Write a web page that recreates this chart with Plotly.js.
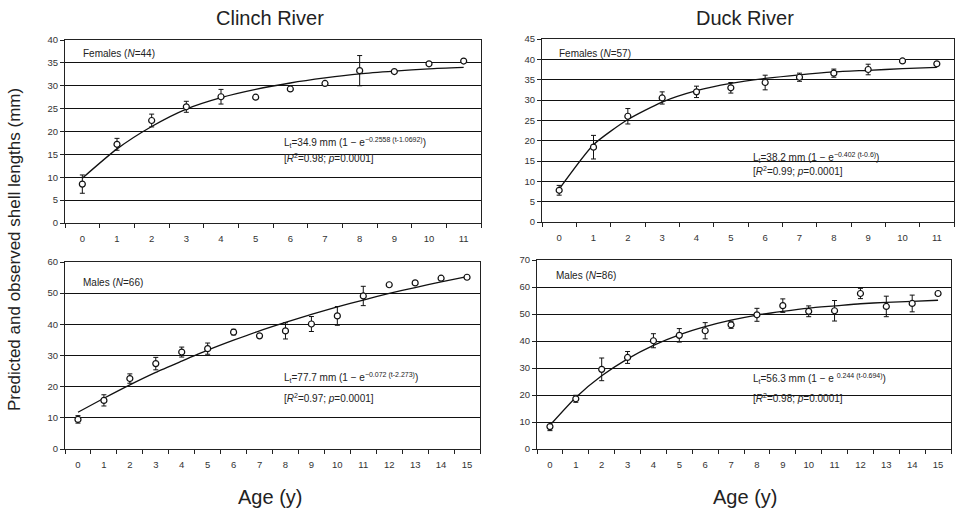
<!DOCTYPE html>
<html>
<head>
<meta charset="utf-8">
<script src="https://cdn.plot.ly/plotly-3.0.1.min.js"></script>
<style>html,body{margin:0;padding:0;background:#fff;}#chart{width:965px;height:513px;}</style>
</head>
<body>
<div id="chart"></div>
<script>
// ---- Data ----
var agesF = [0,1,2,3,4,5,6,7,8,9,10,11];
var agesM = [0,1,2,3,4,5,6,7,8,9,10,11,12,13,14,15];

var clinchF_obs = [8.5,17.2,22.4,25.4,27.6,27.5,29.3,30.5,33.3,33.1,34.8,35.4];
var clinchF_err = [2.0,1.3,1.4,1.2,1.6,0.4,0,0,3.3,0,0,0];
var clinchF_fit = [9.8,16.2,21.1,24.9,27.4,29.2,30.6,31.7,32.6,33.2,33.7,34.0];

var duckF_obs = [7.8,18.4,26.0,30.5,32.0,33.0,34.3,35.6,36.6,37.5,39.6,38.9];
var duckF_err = [1.2,2.9,1.9,1.5,1.4,1.3,1.8,1.0,1.0,1.3,0,0];
var duckF_fit = [8.1,19.0,25.2,29.5,32.3,34.1,35.3,36.2,36.9,37.3,37.7,38.0];

var clinchM_obs = [9.5,15.6,22.6,27.4,31.1,32.2,37.5,36.3,37.9,40.1,42.7,49.1,52.7,53.3,54.8,55.1];
var clinchM_err = [1.2,1.8,1.5,2.0,1.6,1.8,0.9,0,2.6,2.4,3.0,3.1,0,0.4,0,0];
var clinchM_fit = [11.8,16.3,20.6,24.6,28.2,31.7,34.9,37.9,40.6,43.2,45.6,47.8,49.9,51.8,53.6,55.3];

var duckM_obs = [8.3,18.6,29.5,33.9,40.1,42.1,43.8,46.0,49.7,53.1,51.0,51.2,57.6,52.8,53.9,57.6];
var duckM_err = [1.5,1.3,4.2,2.2,2.6,2.5,3.0,1.3,2.4,2.5,2.0,3.8,1.9,3.8,3.1,0];
var duckM_fit = [8.8,19.1,27.1,33.4,38.4,42.3,45.3,47.7,49.6,51.0,52.2,53.0,53.8,54.3,54.7,55.1];

var panelTitles = ["Clinch River", "Duck River"];
var xTitle = "Age (y)";
var yTitle = "Predicted and observed shell lengths (mm)";

// ---- Helpers ----
var W = 965, H = 513;
function px(x){ return x / W; }
function py(y){ return 1 - y / H; }
var FONT = "Liberation Sans, Arial, sans-serif";

function fitTrace(x, y, ax){
  return {x:x, y:y, xaxis:'x'+ax, yaxis:'y'+ax, type:'scatter', mode:'lines',
    line:{color:'#111', width:1.3, shape:'spline', smoothing:0.6}, hoverinfo:'skip', showlegend:false};
}
function obsTrace(x, y, e, ax){
  return {x:x, y:y, xaxis:'x'+ax, yaxis:'y'+ax, type:'scatter', mode:'markers',
    marker:{symbol:'circle', size:6, color:'#fff', line:{color:'#111', width:1.2}},
    error_y:{type:'data', array:e, visible:true, color:'#111', thickness:1, width:2.5},
    showlegend:false};
}

var data = [
  fitTrace(agesF, clinchF_fit, ''), obsTrace(agesF, clinchF_obs, clinchF_err, ''),
  fitTrace(agesF, duckF_fit, '2'), obsTrace(agesF, duckF_obs, duckF_err, '2'),
  fitTrace(agesM, clinchM_fit, '3'), obsTrace(agesM, clinchM_obs, clinchM_err, '3'),
  fitTrace(agesM, duckM_fit, '4'), obsTrace(agesM, duckM_obs, duckM_err, '4')
];
data[0].xaxis='x'; data[0].yaxis='y'; data[1].xaxis='x'; data[1].yaxis='y';

function xAxis(domain, n, anchor){
  var tv = []; for (var i=0;i<n;i++) tv.push(i);
  return {domain:domain, anchor:anchor, range:[-0.5, n-0.5], tickmode:'array', tickvals:tv,
    ticks:'', showgrid:false, zeroline:false, showline:true, mirror:true, linecolor:'#222', linewidth:1,
    tickfont:{family:FONT, size:9.5, color:'#333'}, ticklabelstandoff:7,
    minor:{ticks:'outside', ticklen:4, tickcolor:'#222', tickwidth:1, tick0:0.5, dtick:1, showgrid:false},
    fixedrange:true};
}
function yAxis(domain, max, dt, anchor){
  return {domain:domain, anchor:anchor, range:[0,max], dtick:dt, tick0:0, ticks:'outside', ticklen:4,
    tickcolor:'#222', showgrid:true, gridcolor:'#111', gridwidth:1, zeroline:false,
    showline:true, mirror:true, linecolor:'#222', linewidth:1,
    tickfont:{family:FONT, size:9.5, color:'#333'}, fixedrange:true};
}

function ann(text, x, y, opts){
  var a = {text:text, x:px(x), y:py(y), xref:'paper', yref:'paper', showarrow:false,
    xanchor:'left', yanchor:'middle', font:{family:FONT, size:10, color:'#222'}};
  for (var k in (opts||{})) a[k]=opts[k];
  return a;
}

var bigFont = {family:FONT, size:20, color:'#222'};

var layout = {
  width:W, height:H, margin:{l:0,r:0,t:0,b:0}, paper_bgcolor:'#fff', plot_bgcolor:'#fff',
  showlegend:false,
  xaxis: xAxis([px(65), px(481)], 12, 'y'),
  yaxis: yAxis([py(223), py(40)], 40, 5, 'x'),
  xaxis2: xAxis([px(542), px(954)], 12, 'y2'),
  yaxis2: yAxis([py(222), py(39)], 45, 5, 'x2'),
  xaxis3: xAxis([px(65), px(480)], 16, 'y3'),
  yaxis3: yAxis([py(449), py(262)], 60, 10, 'x3'),
  xaxis4: xAxis([px(537), px(951)], 16, 'y4'),
  yaxis4: yAxis([py(449), py(260)], 70, 10, 'x4'),
  annotations: [
    ann(panelTitles[0], 270, 18, {xanchor:'center', font:bigFont}),
    ann(panelTitles[1], 745, 18, {xanchor:'center', font:bigFont}),
    ann(xTitle, 270, 497, {xanchor:'center', font:bigFont}),
    ann(xTitle, 745, 497, {xanchor:'center', font:bigFont}),
    ann(yTitle, 14, 250, {xanchor:'center', textangle:-90, font:{family:FONT, size:17, color:'#222'}}),

    ann("Females (<i>N</i>=44)", 81, 53),
    ann("L<sub>t</sub>=34.9 mm (1 − e<sup>−0.2558 (t-1.0692)</sup>)", 282, 143),
    ann("[<i>R</i><sup>2</sup>=0.98; <i>p</i>=0.0001]", 282, 158),

    ann("Females (<i>N</i>=57)", 557, 53),
    ann("L<sub>t</sub>=38.2 mm (1 − e<sup>−0.402 (t-0.6)</sup>)", 751, 157),
    ann("[<i>R</i><sup>2</sup>=0.99; <i>p</i>=0.0001]", 751, 171),

    ann("Males (<i>N</i>=66)", 81, 282),
    ann("L<sub>t</sub>=77.7 mm (1 − e<sup>−0.072 (t-2.273)</sup>)", 282, 377),
    ann("[<i>R</i><sup>2</sup>=0.97; <i>p</i>=0.0001]", 282, 398),

    ann("Males (<i>N</i>=86)", 554, 275),
    ann("L<sub>t</sub>=56.3 mm (1 − e <sup>0.244 (t-0.694)</sup>)", 751, 378),
    ann("[<i>R</i><sup>2</sup>=0.98; <i>p</i>=0.0001]", 751, 398)
  ]
};

Plotly.newPlot('chart', data, layout, {displayModeBar:false, staticPlot:true});
</script>
</body>
</html>
